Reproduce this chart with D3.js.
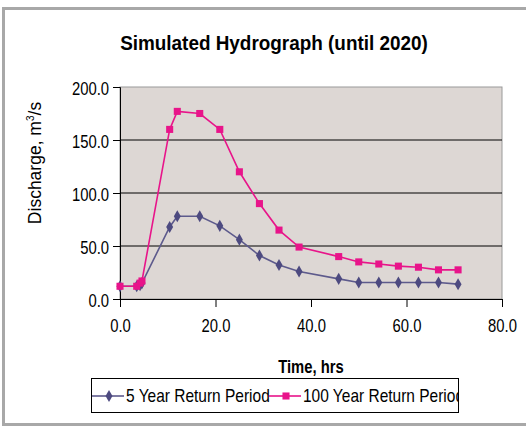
<!DOCTYPE html>
<html>
<head>
<meta charset="utf-8">
<script src="https://cdn.jsdelivr.net/npm/d3@7"></script>
<style>
  body { margin: 0; background: #fff; }
  svg text { font-family: "Liberation Sans", Arial, sans-serif; }
</style>
</head>
<body>
<div id="chart"></div>
<script>
var times = [0, 3.5, 4.2, 4.6, 10.4, 12.0, 16.7, 20.9, 25.0, 29.2, 33.3, 37.5, 45.8, 50.0, 54.2, 58.3, 62.5, 66.7, 70.8];
var fiveYear = [12, 12, 13, 15, 68, 78, 78, 69, 56, 41, 32, 26, 19, 15.5, 15.5, 15.5, 15.5, 15.5, 14];
var hundredYear = [12, 12, 15, 17, 160, 177, 175, 160, 120, 90, 65, 49, 40, 35, 33, 31, 30, 27.5, 27.5];
var xTicks = [0, 20, 40, 60, 80];
var yTicks = [0, 50, 100, 150, 200];

var seriesNames = ["5 Year Return Period", "100 Year Return Period"];

var W = 526, H = 427;
var margin = {top: 87, left: 120};
var width = 502 - margin.left, height = 299 - margin.top;

var svg = d3.select("#chart").append("svg")
    .attr("width", W)
    .attr("height", H);

// the original text looks squashed sideways, so shrink glyph widths
function squeeze(sel, k) {
  sel.each(function() {
    var len = this.getComputedTextLength();
    d3.select(this).attr("textLength", len * k).attr("lengthAdjust", "spacingAndGlyphs");
  });
}

// outer frame
svg.append("rect")
    .attr("x", 3.5).attr("y", 8.5)
    .attr("width", 540).attr("height", 416)
    .attr("fill", "#fff")
    .attr("stroke", "#a8a8a8")
    .attr("stroke-width", 3);

svg.append("text")
    .attr("x", 274).attr("y", 50)
    .attr("text-anchor", "middle")
    .attr("font-weight", "bold")
    .attr("font-size", 21)
    .text("Simulated Hydrograph (until 2020)")
    .call(squeeze, 0.9);

var g = svg.append("g")
    .attr("transform", "translate(" + margin.left + "," + margin.top + ")");

var x = d3.scaleLinear().domain([0, 80]).range([0, width]);
var y = d3.scaleLinear().domain([0, 200]).range([height, 0]);

g.append("rect")
    .attr("width", width).attr("height", height)
    .attr("fill", "#ddd7d4")
    .attr("stroke", "#9a9a9a")
    .attr("stroke-width", 1);

g.selectAll(".grid")
    .data(yTicks.filter(function(d) { return d > 0 && d < 200; }))
  .enter().append("line")
    .attr("x1", 0).attr("x2", width)
    .attr("y1", function(d) { return y(d); })
    .attr("y2", function(d) { return y(d); })
    .attr("stroke", "#000")
    .attr("stroke-width", 1);

var yAxis = d3.axisLeft(y)
    .tickValues(yTicks)
    .tickSize(7)
    .tickPadding(4)
    .tickFormat(d3.format(".1f"));

var xAxis = d3.axisBottom(x)
    .tickValues(xTicks)
    .tickSize(8)
    .tickPadding(12)
    .tickFormat(d3.format(".1f"));

var ya = g.append("g").call(yAxis);
var xa = g.append("g").attr("transform", "translate(0," + height + ")").call(xAxis);

[ya, xa].forEach(function(a) {
  a.select(".domain").attr("stroke", "#000");
  a.selectAll(".tick line").attr("stroke", "#000");
  a.selectAll(".tick text")
      .attr("font-size", 19)
      .attr("fill", "#000")
      .style("font-family", "'Liberation Sans', Arial, sans-serif")
      .call(squeeze, 0.78);
});
ya.selectAll(".tick text").attr("dy", "0.42em");
ya.select(".domain").attr("d", "M-7,0.5H0.5V" + (height + 0.5) + "H-7");
xa.select(".domain").attr("d", "M0.5,0V0.5H" + (width + 0.5) + "V8");

var yl = svg.append("text")
    .attr("transform", "translate(41,163) rotate(-90)")
    .attr("text-anchor", "middle")
    .attr("font-size", 17.5)
    .text("Discharge, m");
yl.append("tspan")
    .attr("font-size", 10)
    .attr("dy", -7)
    .text("3");
yl.append("tspan")
    .attr("dy", 7)
    .text("/s");

svg.append("text")
    .attr("x", 311).attr("y", 373)
    .attr("text-anchor", "middle")
    .attr("font-weight", "bold")
    .attr("font-size", 18.5)
    .text("Time, hrs")
    .call(squeeze, 0.8);

var line = d3.line()
    .x(function(d) { return x(d.t); })
    .y(function(d) { return y(d.q); });

function toPts(vals) {
  return times.map(function(t, i) { return {t: t, q: vals[i]}; });
}

var navy = "#4d4a80", pink = "#e8148a";
var diamond = d3.symbol().type(d3.symbolDiamond).size(42);
var square = d3.symbol().type(d3.symbolSquare).size(50);

var s1 = toPts(fiveYear), s2 = toPts(hundredYear);

g.append("path").datum(s1)
    .attr("fill", "none").attr("stroke", "#5d5a8c").attr("stroke-width", 1.6)
    .attr("d", line);
g.selectAll(".d5").data(s1).enter().append("path")
    .attr("transform", function(d) { return "translate(" + x(d.t) + "," + y(d.q) + ")"; })
    .attr("d", diamond)
    .attr("fill", navy);

g.append("path").datum(s2)
    .attr("fill", "none").attr("stroke", pink).attr("stroke-width", 1.6)
    .attr("d", line);
g.selectAll(".d100").data(s2).enter().append("path")
    .attr("transform", function(d) { return "translate(" + x(d.t) + "," + y(d.q) + ")"; })
    .attr("d", square)
    .attr("fill", pink);

// legend
svg.append("clipPath").attr("id", "lgclip")
  .append("rect")
    .attr("x", 91).attr("y", 378).attr("width", 368).attr("height", 35);

var lg = svg.append("g").attr("clip-path", "url(#lgclip)");
lg.append("rect")
    .attr("x", 91.5).attr("y", 378.5)
    .attr("width", 367).attr("height", 34)
    .attr("fill", "#fff");

var legendItems = [
  {name: seriesNames[0], x: 92, color: "#5d5a8c", sym: diamond, fill: navy},
  {name: seriesNames[1], x: 269, color: pink, sym: square, fill: pink}
];
legendItems.forEach(function(d) {
  lg.append("line")
      .attr("x1", d.x).attr("x2", d.x + 32)
      .attr("y1", 396).attr("y2", 396)
      .attr("stroke", d.color).attr("stroke-width", 1.6);
  lg.append("path")
      .attr("transform", "translate(" + (d.x + 17) + ",396)")
      .attr("d", d.sym)
      .attr("fill", d.fill);
  lg.append("text")
      .attr("x", d.x + 34).attr("y", 402)
      .attr("font-size", 19)
      .text(d.name)
      .call(squeeze, 0.815);
});
svg.append("rect")
    .attr("x", 91.5).attr("y", 378.5)
    .attr("width", 367).attr("height", 34)
    .attr("fill", "none").attr("stroke", "#000");
</script>
</body>
</html>
